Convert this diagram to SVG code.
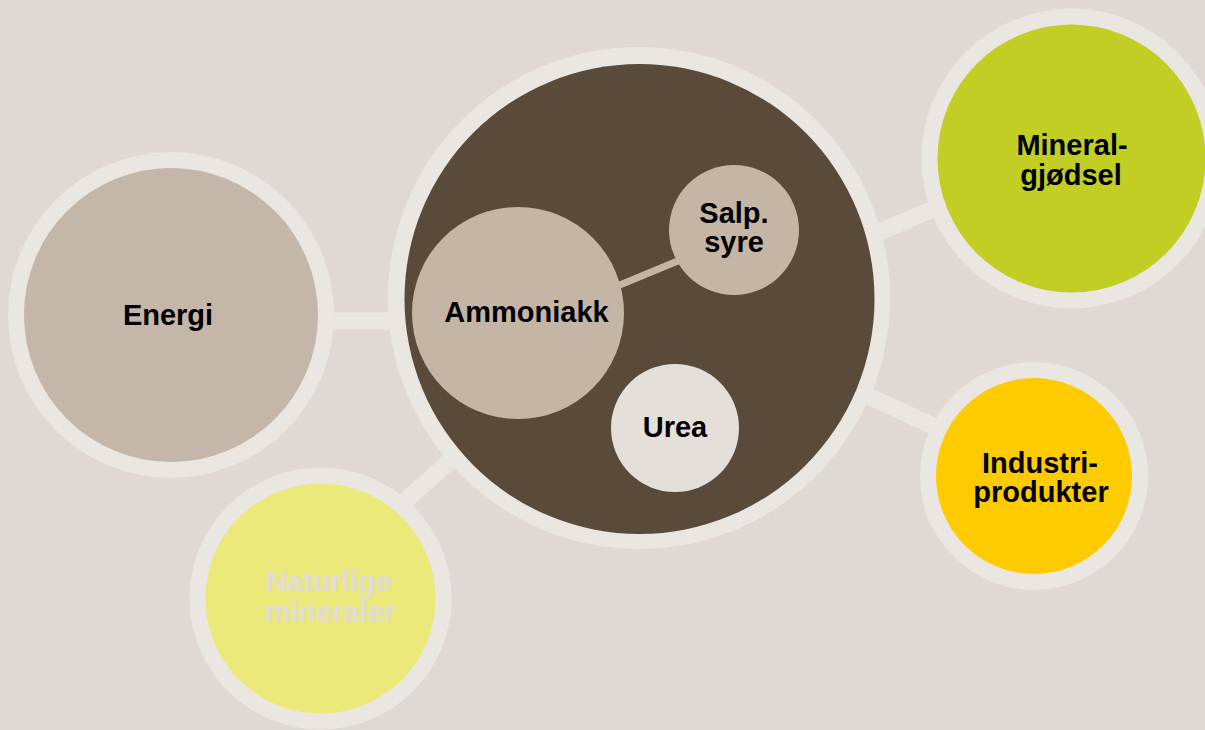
<svg xmlns="http://www.w3.org/2000/svg" width="1205" height="730" viewBox="0 0 1205 730">
<style>
.ring{fill:#EAE6E1}
.lbl{font-family:"Liberation Sans",Arial,sans-serif;font-weight:bold;font-size:29px;text-anchor:middle;fill:#000}
.conn{stroke:#EAE6E1;stroke-width:17;fill:none}
</style>
<rect width="1205" height="730" fill="#E0D9D3"/>
<g id="connectors">
<line class="conn" x1="310" y1="321" x2="410" y2="321"/>
<line class="conn" x1="395" y1="510" x2="460" y2="452"/>
<line class="conn" x1="870" y1="236" x2="945" y2="204"/>
<line class="conn" x1="860" y1="392" x2="950" y2="434"/>
</g>
<g id="energi">
<circle class="ring" cx="171" cy="315" r="163"/>
<circle cx="171" cy="315" r="147" fill="#C4B6A8"/>
<text class="lbl" x="168" y="325">Energi</text>
</g>
<g id="naturlige">
<circle class="ring" cx="320.5" cy="598.5" r="131"/>
<circle cx="320.5" cy="598.5" r="115" fill="#EAE97A"/>
<text class="lbl" style="fill:#E2DCD6" x="329" y="592">Naturlige</text>
<text class="lbl" style="fill:#E2DCD6" x="330" y="622">mineraler</text>
</g>
<g id="mineral">
<circle class="ring" cx="1071.5" cy="158.5" r="150"/>
<circle cx="1071.5" cy="158.5" r="134" fill="#C2CE23"/>
<text class="lbl" x="1072" y="155">Mineral-</text>
<text class="lbl" x="1071" y="185">gjødsel</text>
</g>
<g id="industri">
<circle class="ring" cx="1034" cy="476" r="114"/>
<circle cx="1034" cy="476" r="98" fill="#FECB00"/>
<text class="lbl" x="1040" y="473">Industri-</text>
<text class="lbl" x="1041" y="502">produkter</text>
</g>
<g id="main">
<circle class="ring" cx="639" cy="298" r="251"/>
<circle cx="639.5" cy="299" r="235" fill="#5A4A3A"/>
</g>
<line x1="615" y1="287" x2="685" y2="258" stroke="#C4B5A5" stroke-width="7"/>
<g id="ammoniakk">
<circle cx="518" cy="313" r="106" fill="#C4B5A5"/>
<text class="lbl" x="526.5" y="322">Ammoniakk</text>
</g>
<g id="salp">
<circle cx="734" cy="230" r="65" fill="#C4B5A5"/>
<text class="lbl" x="734" y="223">Salp.</text>
<text class="lbl" x="734" y="252">syre</text>
</g>
<g id="urea">
<circle cx="675" cy="428" r="64" fill="#E5DFDA"/>
<text class="lbl" x="675" y="437">Urea</text>
</g>
</svg>
